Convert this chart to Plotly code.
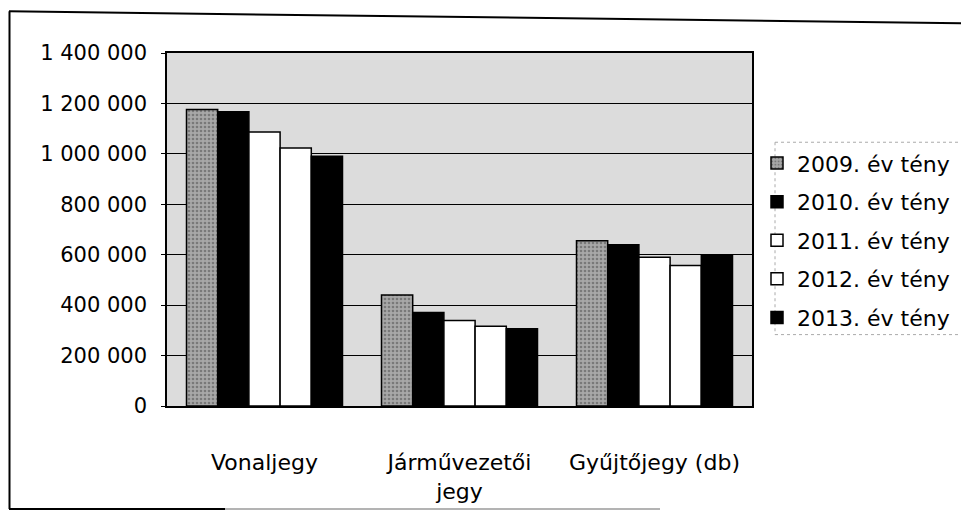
import plotly.graph_objects as go

categories = ["Vonaljegy", "Járművezetői<br>jegy", "Gyűjtőjegy (db)"]
series_names = ["2009. év tény", "2010. év tény", "2011. év tény", "2012. év tény", "2013. év tény"]
v2009 = [1176000, 440000, 655000]
v2010 = [1167000, 371000, 640000]
v2011 = [1087000, 339000, 590000]
v2012 = [1023000, 316000, 557000]
v2013 = [991000, 306000, 600000]
series_values = [v2009, v2010, v2011, v2012, v2013]
y_ticks = [0, 200000, 400000, 600000, 800000, 1000000, 1200000, 1400000]

fills = ["#9a9a9a", "#000000", "#ffffff", "#ffffff", "#000000"]

fig = go.Figure()
for i, (name, vals) in enumerate(zip(series_names, series_values)):
    marker = dict(color=fills[i], line=dict(color="#000000", width=1.5))
    if i == 0:
        marker["pattern"] = dict(shape=".", fgcolor="#4a4a4a", bgcolor="#a8a8a8",
                                 size=4, solidity=0.35)
    fig.add_trace(go.Bar(x=categories, y=vals, name=name, marker=marker,
                         legendgroup=name))

# page has an 8px body margin; positions below are page pixels
OFF = 8
W, H = 969 - OFF, 516 - OFF
L, R, T, B = 167 - OFF, 752 - OFF, 53 - OFF, 409 - OFF
def px(x):
    return (x - OFF - L) / (R - L)
def py(y):
    return (B - (y - OFF)) / (B - T)

shapes = [
    dict(type="line", xref="paper", yref="paper", x0=px(9), y0=py(11), x1=px(969), y1=py(23),
         line=dict(color="#000000", width=2)),
    dict(type="line", xref="paper", yref="paper", x0=px(9.5), y0=py(11), x1=px(9.5), y1=py(513),
         line=dict(color="#000000", width=2)),
    dict(type="line", xref="paper", yref="paper", x0=px(9), y0=py(513), x1=px(225), y1=py(513),
         line=dict(color="#000000", width=2)),
    dict(type="line", xref="paper", yref="paper", x0=px(225), y0=py(513), x1=px(660), y1=py(513),
         line=dict(color="#9a9a9a", width=1.5)),
    dict(type="line", xref="paper", yref="paper", x0=px(775), y0=py(143), x1=px(969), y1=py(143),
         line=dict(color="#aaaaaa", width=1, dash="dot")),
    dict(type="line", xref="paper", yref="paper", x0=px(775), y0=py(143), x1=px(775), y1=py(337),
         line=dict(color="#aaaaaa", width=1, dash="dot")),
    dict(type="line", xref="paper", yref="paper", x0=px(775), y0=py(337), x1=px(969), y1=py(337),
         line=dict(color="#aaaaaa", width=1, dash="dot")),
]

fig.update_layout(
    width=W, height=H,
    margin=dict(l=L, r=W - R, t=T, b=H - B),
    paper_bgcolor="#ffffff",
    plot_bgcolor="#dcdcdc",
    barmode="group",
    bargap=0.2,
    bargroupgap=0,
    separators=", ",
    font=dict(family="DejaVu Sans", color="#000000"),
    showlegend=True,
    legend=dict(x=px(757), y=py(143), xanchor="left", yanchor="top",
                font=dict(size=22, family="DejaVu Sans", color="#000000"),
                bgcolor="rgba(0,0,0,0)", tracegroupgap=7, traceorder="grouped"),
    shapes=shapes,
)
fig.update_xaxes(showline=True, linecolor="#000000", linewidth=1.5, mirror=True,
                 ticks="", tickfont=dict(size=22), ticklabelstandoff=36,
                 showgrid=False)
fig.update_yaxes(range=[0, 1400000], tickvals=y_ticks, tickformat=",d",
                 showline=True, linecolor="#000000", linewidth=1.5, mirror=True,
                 ticks="outside", ticklen=4, tickcolor="#000000",
                 tickfont=dict(size=21), ticklabelstandoff=10,
                 showgrid=True, gridcolor="#000000", gridwidth=1, zeroline=False)

fig.write_html("out.html")
